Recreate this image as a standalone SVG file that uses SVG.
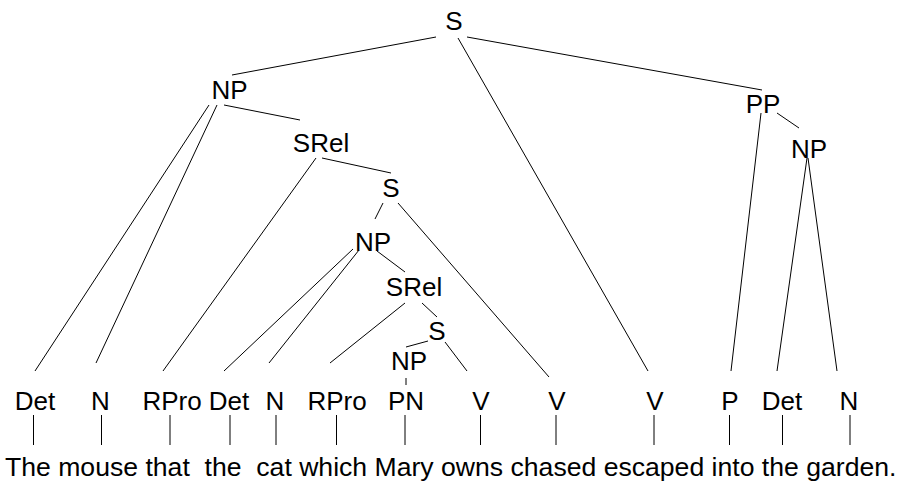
<svg xmlns="http://www.w3.org/2000/svg" width="902" height="481" viewBox="0 0 902 481">
  <style>
    text { font-family: "Liberation Sans", Arial, sans-serif; font-size: 26px; fill: #000; }
    .lbl { text-anchor: middle; }
    .edges line { stroke: #000; stroke-width: 1; fill: none; }
  </style>
  <rect width="902" height="481" fill="#fff"/>

  <!-- tree edges -->
  <g id="connectors" class="edges">
    <line x1="436" y1="37" x2="232" y2="75"/>
    <line x1="458" y1="38" x2="648" y2="371"/>
    <line x1="467" y1="37" x2="762" y2="90"/>
    <line x1="209" y1="105" x2="35" y2="371"/>
    <line x1="217" y1="105" x2="96" y2="363"/>
    <line x1="224" y1="105" x2="300" y2="120"/>
    <line x1="316" y1="158" x2="163" y2="371"/>
    <line x1="322" y1="158" x2="391" y2="173"/>
    <line x1="383" y1="203" x2="375" y2="219"/>
    <line x1="398" y1="203" x2="549" y2="377"/>
    <line x1="353" y1="249" x2="224" y2="371"/>
    <line x1="359" y1="250" x2="269" y2="363"/>
    <line x1="377" y1="251" x2="405" y2="272"/>
    <line x1="405" y1="303" x2="330" y2="363"/>
    <line x1="422" y1="303" x2="437" y2="317"/>
    <line x1="428" y1="341" x2="406" y2="347"/>
    <line x1="445" y1="342" x2="467" y2="371"/>
    <line x1="406" y1="378" x2="406" y2="385"/>
    <line x1="761" y1="113" x2="731" y2="371"/>
    <line x1="777" y1="113" x2="799" y2="128"/>
    <line x1="807" y1="158" x2="777" y2="371"/>
    <line x1="808" y1="158" x2="837" y2="371"/>
    <!-- preterminal to word -->
    <line x1="33.5" y1="415" x2="33.5" y2="445"/>
    <line x1="101.5" y1="415" x2="101.5" y2="445"/>
    <line x1="170" y1="415" x2="170" y2="445"/>
    <line x1="230" y1="415" x2="230" y2="445"/>
    <line x1="276" y1="415" x2="276" y2="445"/>
    <line x1="336.5" y1="415" x2="336.5" y2="445"/>
    <line x1="405" y1="415" x2="405" y2="445"/>
    <line x1="480.5" y1="415" x2="480.5" y2="445"/>
    <line x1="556" y1="415" x2="556" y2="445"/>
    <line x1="654" y1="415" x2="654" y2="445"/>
    <line x1="729.5" y1="415" x2="729.5" y2="445"/>
    <line x1="782.5" y1="415" x2="782.5" y2="445"/>
    <line x1="850" y1="415" x2="850" y2="445"/>
  </g>

  <!-- phrase nodes -->
  <g id="s-root"><text class="lbl" x="454" y="30">S</text></g>
  <g id="np-subject"><text class="lbl" x="229.5" y="99">NP</text></g>
  <g id="srel-1"><text class="lbl" x="321" y="152">SRel</text></g>
  <g id="s-rel-1"><text class="lbl" x="391" y="197">S</text></g>
  <g id="np-cat"><text class="lbl" x="373" y="251">NP</text></g>
  <g id="srel-2"><text class="lbl" x="414" y="296">SRel</text></g>
  <g id="s-rel-2"><text class="lbl" x="437" y="340">S</text></g>
  <g id="np-mary"><text class="lbl" x="409" y="370">NP</text></g>
  <g id="pp"><text class="lbl" x="763" y="113">PP</text></g>
  <g id="np-garden"><text class="lbl" x="809" y="158">NP</text></g>

  <!-- preterminals -->
  <g id="det-1"><text class="lbl" x="35" y="410">Det</text></g>
  <g id="n-1"><text class="lbl" x="100.5" y="410">N</text></g>
  <g id="rpro-1"><text class="lbl" x="172" y="410">RPro</text></g>
  <g id="det-2"><text class="lbl" x="229" y="410">Det</text></g>
  <g id="n-2"><text class="lbl" x="275" y="410">N</text></g>
  <g id="rpro-2"><text class="lbl" x="337" y="410">RPro</text></g>
  <g id="pn"><text class="lbl" x="406" y="410">PN</text></g>
  <g id="v-owns"><text class="lbl" x="481" y="410">V</text></g>
  <g id="v-chased"><text class="lbl" x="557" y="410">V</text></g>
  <g id="v-escaped"><text class="lbl" x="655" y="410">V</text></g>
  <g id="p"><text class="lbl" x="730" y="410">P</text></g>
  <g id="det-3"><text class="lbl" x="782" y="410">Det</text></g>
  <g id="n-3"><text class="lbl" x="849" y="410">N</text></g>

  <!-- sentence -->
  <g id="words"><text x="5" y="476" xml:space="preserve" style="font-size:26.6px">The mouse that  the  cat which Mary owns chased escaped into the garden.</text></g>
</svg>
